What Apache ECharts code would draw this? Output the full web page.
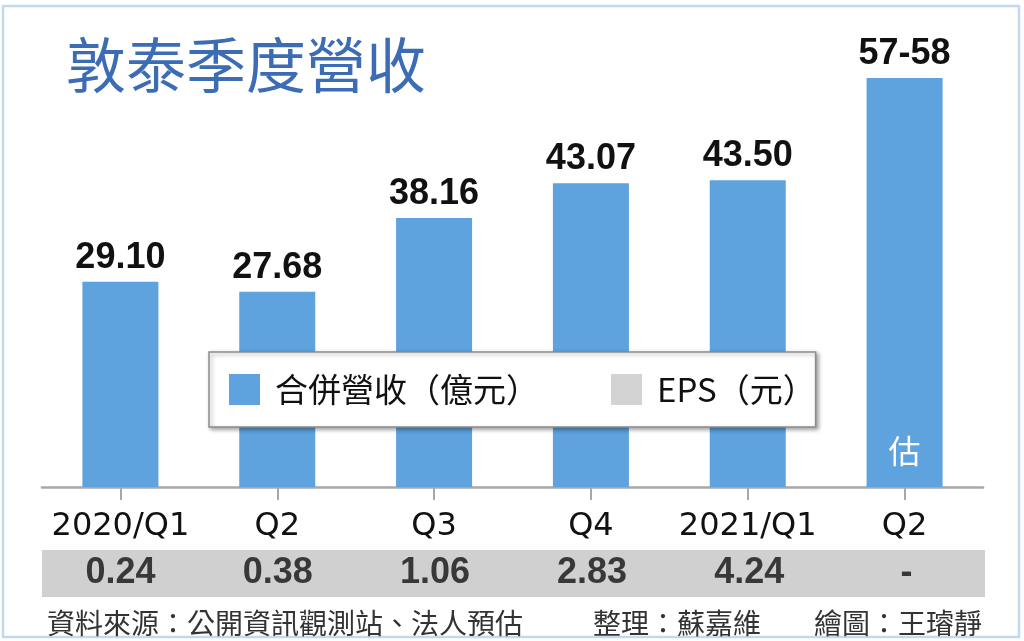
<!DOCTYPE html>
<html lang="zh-Hant">
<head>
    <meta charset="UTF-8">
    <title>敦泰季度營收</title>
    <script src="https://cdn.jsdelivr.net/npm/echarts@6/dist/echarts.min.js"></script>
    <style>
        html, body {
            margin: 0;
            padding: 0;
            background: #ffffff;
        }

        #chart {
            width: 1024px;
            height: 641px;
        }
    </style>
</head>
<body>
    <div id="chart"></div>

    <script>
        // Data
        var quarters = ['2020/Q1', 'Q2', 'Q3', 'Q4', '2021/Q1', 'Q2'];
        var revenue = [29.10, 27.68, 38.16, 43.07, 43.50, 58];
        var revenueLabels = ['29.10', '27.68', '38.16', '43.07', '43.50', '57-58'];
        var estimateMarks = ['', '', '', '', '', '估'];
        var eps = [0.24, 0.38, 1.06, 2.83, 4.24, null];
        var epsLabels = ['0.24', '0.38', '1.06', '2.83', '4.24', '-'];

        var cjk = '"Noto Sans CJK TC", "Noto Sans CJK SC", sans-serif';
        var barColor = '#5ea2de';

        var chart = echarts.init(document.getElementById('chart'));

        var option = {
            backgroundColor: '#ffffff',
            animation: false,
            title: [
                {
                    text: '敦泰季度營收',
                    left: 61,
                    top: 30,
                    textStyle: { fontFamily: cjk, fontSize: 60, fontWeight: 'normal', color: '#3c6cb4' }
                },
                {
                    text: '資料來源：公開資訊觀測站、法人預估',
                    left: 42,
                    top: 604,
                    textStyle: { fontFamily: cjk, fontSize: 28, fontWeight: 'normal', color: '#333333' }
                },
                {
                    text: '整理：蘇嘉維',
                    left: 588,
                    top: 604,
                    textStyle: { fontFamily: cjk, fontSize: 28, fontWeight: 'normal', color: '#333333' }
                },
                {
                    text: '繪圖：王璿靜',
                    left: 809,
                    top: 604,
                    textStyle: { fontFamily: cjk, fontSize: 28, fontWeight: 'normal', color: '#333333' }
                }
            ],
            legend: {
                data: ['合併營收（億元）', 'EPS（元）'],
                left: 209,
                top: 352,
                icon: 'rect',
                itemWidth: 31,
                itemHeight: 31,
                itemGap: 72,
                padding: [21, 0, 21, 20],
                backgroundColor: '#ffffff',
                borderColor: '#8c8c8c',
                borderWidth: 1.5,
                shadowColor: 'rgba(0,0,0,0.35)',
                shadowBlur: 4,
                shadowOffsetX: 2,
                shadowOffsetY: 2,
                selectedMode: false,
                textStyle: { fontFamily: cjk, fontSize: 33, color: '#111111', padding: [0, 0, 0, 10] }
            },
            grid: [
                { left: 42, right: 41, top: 64, bottom: 154 },
                { left: 42, right: 39, top: 550, height: 47, show: true, backgroundColor: '#d0d0d0', borderWidth: 0 }
            ],
            xAxis: [
                {
                    type: 'category',
                    gridIndex: 0,
                    data: quarters,
                    axisLine: { lineStyle: { color: '#a8a8a8', width: 2.5 } },
                    axisTick: { show: true, interval: 0, alignWithLabel: true, length: 13, lineStyle: { color: '#a8a8a8', width: 2 } },
                    axisLabel: { interval: 0, margin: 24, fontFamily: 'DejaVu Sans', fontSize: 32, color: '#111111' }
                },
                {
                    type: 'category',
                    gridIndex: 1,
                    data: quarters,
                    show: false
                }
            ],
            yAxis: [
                { type: 'value', gridIndex: 0, min: 0, max: 60, show: false },
                { type: 'value', gridIndex: 1, min: 0, max: 1, show: false }
            ],
            series: [
                {
                    name: '合併營收（億元）',
                    type: 'bar',
                    xAxisIndex: 0,
                    yAxisIndex: 0,
                    data: revenue,
                    barWidth: 76,
                    itemStyle: { color: barColor },
                    label: {
                        show: true,
                        position: 'top',
                        distance: 6,
                        fontFamily: 'Liberation Sans',
                        fontWeight: 'bold',
                        fontSize: 36,
                        color: '#111111',
                        formatter: function (p) { return revenueLabels[p.dataIndex]; }
                    }
                },
                {
                    // same bars again, only to carry the "估" mark inside
                    name: 'estimate',
                    type: 'bar',
                    xAxisIndex: 0,
                    yAxisIndex: 0,
                    data: revenue,
                    barWidth: 76,
                    barGap: '-100%',
                    silent: true,
                    itemStyle: { color: 'rgba(0,0,0,0)' },
                    label: {
                        show: true,
                        position: 'insideBottom',
                        distance: 20,
                        fontFamily: cjk,
                        fontSize: 32,
                        color: '#ffffff',
                        formatter: function (p) { return estimateMarks[p.dataIndex]; }
                    }
                },
                {
                    name: 'EPS（元）',
                    type: 'scatter',
                    xAxisIndex: 1,
                    yAxisIndex: 1,
                    symbolSize: 0,
                    silent: true,
                    itemStyle: { color: '#c8c8c8' },
                    data: eps.map(function (v, i) { return [i, 0.5, v]; }),
                    label: {
                        show: true,
                        position: 'inside',
                        fontFamily: 'Liberation Sans',
                        fontWeight: 'bold',
                        fontSize: 36,
                        color: '#111111',
                        formatter: function (p) { return epsLabels[p.dataIndex]; }
                    }
                }
            ],
            graphic: [
                {
                    type: 'rect',
                    shape: { x: 3, y: 6, width: 1016, height: 631 },
                    style: { fill: 'none', stroke: '#c2daef', lineWidth: 2.5 },
                    silent: true
                }
            ]
        };

        chart.setOption(option);
    </script>
</body>
</html>
